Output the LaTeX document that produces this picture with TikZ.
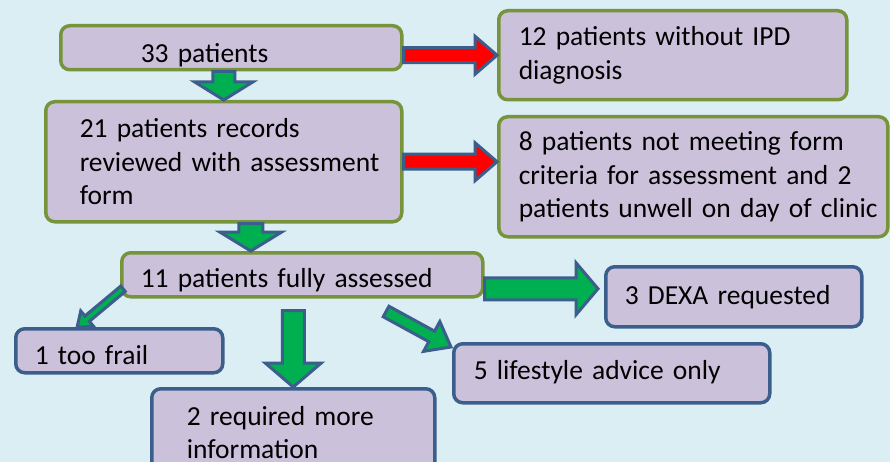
\documentclass[tikz,border=0pt]{standalone}
\usepackage{fontspec}
\setmainfont{Carlito}
\usepackage{tikz}
\usetikzlibrary{calc}

\definecolor{bgblue}{HTML}{DAEEF3}
\definecolor{boxlilac}{HTML}{CCC1DA}
\definecolor{boxgreen}{HTML}{77933C}
\definecolor{boxblue}{HTML}{3B5E8C}
\definecolor{arrowgreen}{HTML}{00B050}
\definecolor{arrowred}{HTML}{FF0000}

\tikzset{
    box/.style={rounded corners=9pt, line width=3.5pt, fill=boxlilac, anchor=north west,
        align=left, inner ysep=0pt, font=\fontsize{27.5}{33.5}\selectfont},
    greenbox/.style={box, draw=boxgreen},
    bluebox/.style={box, draw=boxblue},
    oneline/.style={text height=#1, text depth=7pt},
    arrowline/.style={draw=boxblue, line width=3pt, line join=miter},
}

% block arrow: fill, from, to, shaft half width, head half width, head length
\newcommand\blockarrow[6]{%
    \path[arrowline, fill=#1] let \p1=(#2), \p2=(#3),
        \n1={atan2(\y2-\y1,\x2-\x1)}, \n2={veclen(\x2-\x1,\y2-\y1)} in
        [shift={(\p1)}, rotate=\n1]
        (0pt,-#4pt) -- ({\n2*1pt-#6pt},-#4pt) -- ({\n2*1pt-#6pt},-#5pt) -- ({\n2*1pt},0pt)
        -- ({\n2*1pt-#6pt},#5pt) -- ({\n2*1pt-#6pt},#4pt) -- (0pt,#4pt) -- cycle;
}

\begin{document}
\begin{tikzpicture}[x=1pt, y=-1pt]
    \path[use as bounding box, fill=bgblue] (0,0) rectangle (890,462);

    % top row
    \node[greenbox, minimum width=341pt, minimum height=44pt, text width=181pt, inner xsep=80pt, oneline=37pt] (all) at (59,24) {33 patients};
    \node[greenbox, minimum width=348pt, minimum height=89pt, text width=308pt, inner xsep=20pt] (noipd) at (497,9) {12 patients without IPD\\diagnosis};
    \node[greenbox, minimum width=356pt, minimum height=120pt, text width=288pt, inner xsep=34pt] (review) at (44,100) {21 patients records\\\mbox{reviewed with assessment}\\form};
    \node[greenbox, minimum width=389pt, minimum height=120pt, text width=349pt, inner xsep=20pt] (excluded) at (497,115) {8 patients not meeting form\\criteria for assessment and 2\\\mbox{patients unwell on day of clinic}};
    \node[greenbox, minimum width=361pt, minimum height=44pt, text width=323pt, inner xsep=19pt, oneline=33pt] (assessed) at (120,251) {11 patients fully assessed};

    % outcomes
    \node[bluebox, minimum width=207pt, minimum height=44pt, text width=169pt, inner xsep=19pt, oneline=35pt] (frail) at (14,327) {1 too frail};
    \node[bluebox, minimum width=283pt, minimum height=88pt, text width=213pt, inner xsep=35pt] (moreinfo) at (150,387) {2 required more\\information};
    \node[bluebox, minimum width=316pt, minimum height=59pt, text width=276pt, inner xsep=20pt, oneline=20pt] (lifestyle) at (452,342) {5 lifestyle advice only};
    \node[bluebox, minimum width=256pt, minimum height=60pt, text width=218pt, inner xsep=19pt, oneline=23pt] (dexa) at (604,265) {3 DEXA requested};

    \blockarrow{arrowgreen}{all.south -| review.north}{review.north}{11}{29}{18}
    \blockarrow{arrowred}{all.east |- noipd.west}{noipd.west}{7.5}{19}{22}
    \blockarrow{arrowred}{review.east}{excluded.west |- review.east}{7.5}{19}{22}
    \blockarrow{arrowgreen}{$(review.south)+(27,0)$}{$(review.south |- assessed.north)+(27,0)$}{12}{31}{19}
    \blockarrow{arrowgreen}{$(assessed.east)+(0,14)$}{$(dexa.west |- assessed.east)+(-6,14)$}{11}{26}{22}
    \blockarrow{arrowgreen}{$(assessed.south -| moreinfo.north)+(0,12)$}{moreinfo.north}{11}{28}{24}
    \blockarrow{arrowgreen}{$(assessed.west)+(3,14)$}{$(frail.north west)!0.3!(frail.north east)$}{3.5}{10}{13}
    \blockarrow{arrowgreen}{$(assessed.south west)!0.73!(assessed.south east)+(0,13)$}{$(lifestyle.north west)+(-1,5)$}{6}{17}{22}
\end{tikzpicture}
\end{document}
